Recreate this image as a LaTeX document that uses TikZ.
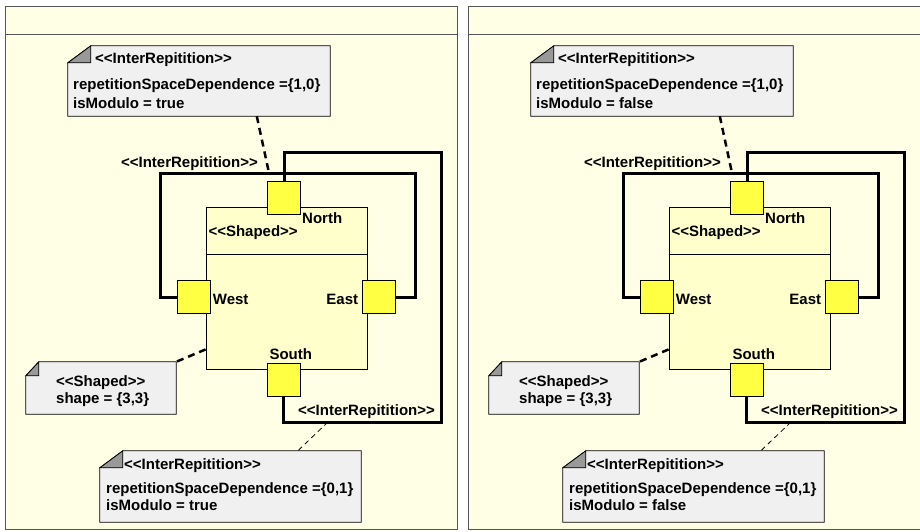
\documentclass[tikz,border=0pt]{standalone}
\usepackage{fontspec}
\newfontfamily\uifont{Liberation Sans}
\usetikzlibrary{calc}
\definecolor{panelbg}{HTML}{FFFFE6}
\definecolor{shapedbg}{HTML}{FFFFCC}
\definecolor{portfill}{HTML}{FFFF44}
\definecolor{notefill}{HTML}{F0F0F0}
\definecolor{earfill}{HTML}{999999}
\definecolor{framecol}{HTML}{555555}
\tikzset{
  lbl/.style={font=\uifont\bfseries\fontsize{15}{18}\selectfont, inner sep=0pt, anchor=base west},
  lble/.style={lbl, anchor=base east},
  port/.style={draw, line width=0.8pt, fill=portfill, minimum width=33pt, minimum height=33pt, inner sep=0pt},
  shapedbox/.style={draw, line width=0.8pt, fill=shapedbg, minimum width=161pt, minimum height=162pt, inner sep=0pt},
  notearea/.style={draw=none, fill=none, inner sep=0pt},
  notepath/.style={draw, line width=0.8pt, fill=notefill},
  earpath/.style={draw, line width=0.8pt, fill=earfill},
  loopline/.style={line width=3pt, line join=miter},
  thicklink/.style={line width=2.5pt, dash pattern=on 7pt off 5pt},
  thinlink/.style={line width=0.8pt, dash pattern=on 5pt off 4pt},
  framepath/.style={draw=framecol, line width=0.8pt},
}
% note outline: #1 node name, #2 ear width, #3 ear height
\newcommand\notebody[3]{%
  \path[notepath] ($(#1.north west)+(0,#3)$) -- ($(#1.north west)+(#2,0)$) -- (#1.north east) -- (#1.south east) -- (#1.south west) -- cycle;
  \path[earpath] ($(#1.north west)+(0,#3)$) -- ($(#1.north west)+(#2,0)$) -- ($(#1.north west)+(#2,#3)$) -- cycle;}
% one panel: #1 shift, #2 name prefix, #3 modulo value
\newcommand\umlpanel[3]{%
\begin{scope}[xshift=#1, name prefix=#2-]
  \path[framepath, fill=panelbg] (5.5,6) rectangle (457,529.5);
  \draw[framepath] (5.5,34.7) -- (457,34.7);
  % structured class
  \node[shapedbox] (shaped) at (286.5,288) {};
  \draw[line width=0.8pt] ($(shaped.north west)+(0,48)$) -- ($(shaped.north east)+(0,48)$);
  % ports
  \node[port] (N) at (284,197.5) {};
  \node[port] (W) at (193.5,297) {};
  \node[port] (E) at (379,297) {};
  \node[port] (S) at (283.5,379.5) {};
  % connectors
  \draw[loopline] (W.west) -| (160,173) -| (415,297) -- (E.east);
  \draw[loopline] (N.north) |- (441,152) -- (441,422) -| (S.south);
  \coordinate (c1) at (269,173);
  \coordinate (c2) at (328,422);
  % notes
  \node[notearea, minimum width=262pt, minimum height=70pt] (n1) at (199,81) {};
  \notebody{n1}{23}{17}
  \node[notearea, minimum width=150pt, minimum height=52pt] (n2) at (101,388) {};
  \notebody{n2}{13}{14}
  \node[notearea, minimum width=261pt, minimum height=71pt] (n3) at (230.5,486.5) {};
  \notebody{n3}{23}{17}
  % note links
  \draw[thicklink] ($(n1.south west)+(189,0)$) -- (c1);
  \draw[thicklink] ($(shaped.south west)+(0,-20)$) -- (n2.north east);
  \draw[thinlink] (c2) -- ($(n3.north west)+(198,0)$);
  % texts
  \node[lbl] (n1t) at (95,63.5) {<<InterRepitition>>};
  \node[lbl] (n1a) at (73,89) {repetitionSpaceDependence =\{1,0\}};
  \node[lbl] (n1b) at (73,108.5) {isModulo = #3};
  \node[lble] (toplbl) at (258,167.5) {<<InterRepitition>>};
  \node[lbl] (northlbl) at (302,223.3) {North};
  \node[lbl] (shapedlbl) at (208.3,236.7) {<<Shaped>>};
  \node[lbl] (westlbl) at (212.7,304) {West};
  \node[lble] (eastlbl) at (358.3,304) {East};
  \node[lbl] (southlbl) at (269.3,359.3) {South};
  \node[lbl] (n2t) at (56,386) {<<Shaped>>};
  \node[lbl] (n2a) at (56,403.3) {shape = \{3,3\}};
  \node[lbl] (botlbl) at (298,415) {<<InterRepitition>>};
  \node[lbl] (n3t) at (124,469) {<<InterRepitition>>};
  \node[lbl] (n3a) at (106,493.3) {repetitionSpaceDependence =\{0,1\}};
  \node[lbl] (n3b) at (106,510.7) {isModulo = #3};
\end{scope}}
\begin{document}
\begin{tikzpicture}[x=1pt, y=-1pt]
  \useasboundingbox (0,0) rectangle (920,531);
  \umlpanel{0pt}{L}{true}
  \umlpanel{463pt}{R}{false}
\end{tikzpicture}
\end{document}
